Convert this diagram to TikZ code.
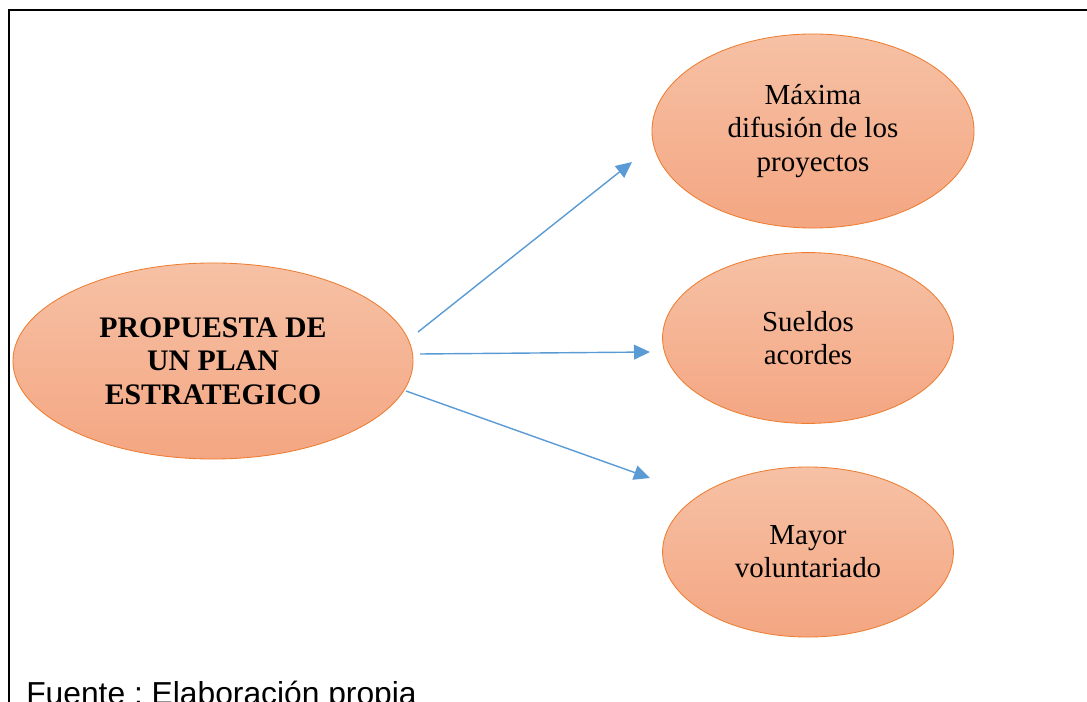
\documentclass[tikz,border=0pt]{standalone}
\usepackage{fontspec}
\setmainfont{Liberation Serif}
\newfontfamily\arialfont{Liberation Sans}
\usetikzlibrary{shapes.geometric,arrows.meta}
\definecolor{ovalline}{HTML}{ED7D31}
\definecolor{ovaltop}{HTML}{F6C1A5}
\definecolor{ovalbottom}{HTML}{F4A682}
\definecolor{arrowblue}{HTML}{5B9BD5}
\frenchspacing
\begin{document}
\begin{tikzpicture}
  [x=0.025cm,y=-0.025cm,
   oval/.style={ellipse,draw=ovalline,line width=0.6pt,top color=ovaltop,bottom color=ovalbottom,
     inner sep=0pt,align=center,font=\fontsize{20.6}{23.6}\selectfont},
   arrow/.style={draw=arrowblue,line width=1pt,-{Triangle[length=0.4cm,width=0.37cm]}}]
  \useasboundingbox (0,0) rectangle (1087,702);
  \clip (0,0) rectangle (1087,702);
  \draw[line width=1.5pt] (9,740) -- (9,10) -- (1120,10);
  \node (plan)[oval,minimum width=10cm,minimum height=4.9cm,font=\fontsize{21.2}{23.8}\selectfont\bfseries] at (213,361)
    {PROPUESTA DE\\UN PLAN\\ESTRATEGICO};
  \node (difusion)[oval,minimum width=8.05cm,minimum height=4.85cm] at (813,131)
    {Máxima\\difusión de los\\proyectos};
  \node (sueldos)[oval,minimum width=7.27cm,minimum height=4.27cm] at (808,338)
    {Sueldos\\acordes};
  \node (voluntariado)[oval,minimum width=7.27cm,minimum height=4.25cm] at (808,552)
    {Mayor\\voluntariado};
  \node (fuente)[anchor=base west,inner sep=0pt,font=\arialfont\fontsize{22.6}{25}\selectfont] at (26,704)
    {Fuente : Elaboración propia};

  \coordinate (s1) at (418,332); \coordinate (e1) at (632,162);
  \coordinate (s2) at (420,354); \coordinate (e2) at (650,352);
  \coordinate (s3) at (406,391); \coordinate (e3) at (650,478);
  \foreach \from/\to in {s1/e1,s2/e2,s3/e3}
    \draw[arrow] (\from) -- (\to);
\end{tikzpicture}
\end{document}
